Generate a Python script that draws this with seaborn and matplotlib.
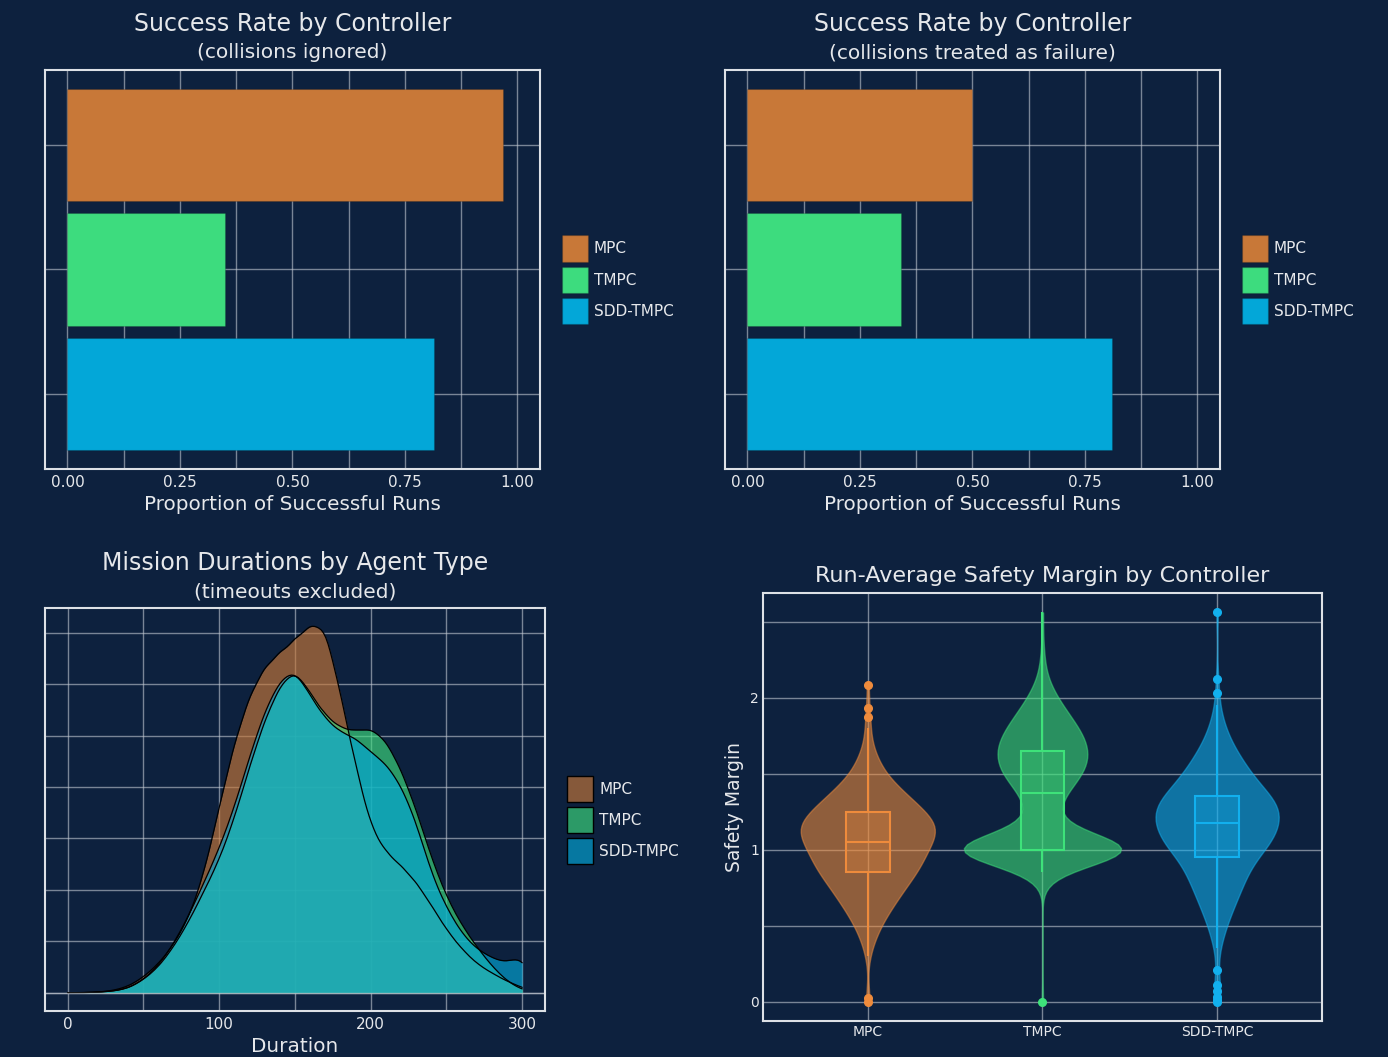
import numpy as np
import pandas as pd
import matplotlib.pyplot as plt
import seaborn as sns
from matplotlib.patches import Patch
from matplotlib.colors import to_rgba
from matplotlib.ticker import MultipleLocator, NullFormatter, FormatStrFormatter

BG = '#0d213e'
TEXT = '#e6e8eb'
GRID = '#c3c9d2'
SPINE = '#dde1e6'

CONTROLLERS = ['MPC', 'TMPC', 'SDD-TMPC']
BAR_COLORS = ['#c87838', '#3ddc7e', '#03a7d8']
VIOLIN_COLORS = ['#ee8b3c', '#3ee27a', '#12b0ee']

# success proportions per controller
SUCCESS_IGNORED = [0.969, 0.349, 0.814]
SUCCESS_COLLISION_FAIL = [0.500, 0.342, 0.811]

# mission durations (s) and relative frequency per controller
DURATIONS = [0, 10, 20, 30, 40, 50, 60, 70, 80, 90,
             100, 110, 120, 130, 140, 150, 160, 170, 180, 190,
             200, 210, 220, 230, 240, 250, 260, 270, 280, 290, 300]
MPC_DUR_FREQ = [0, 0, 0.01, 0.04, 0.12, 0.30, 0.56, 0.93, 1.45, 2.30,
                3.60, 4.85, 5.77, 6.33, 6.60, 6.85, 7.15, 7.15, 5.80, 4.42,
                3.20, 2.72, 2.47, 2.15, 1.70, 1.22, 0.85, 0.56, 0.38, 0.22, 0.10]
TMPC_DUR_FREQ = [0, 0, 0.01, 0.03, 0.08, 0.25, 0.50, 0.90, 1.40, 2.00,
                 2.60, 3.42, 4.45, 5.37, 6.05, 6.40, 5.90, 5.45, 5.20, 5.14,
                 5.22, 4.98, 4.40, 3.62, 2.65, 1.88, 1.33, 0.90, 0.52, 0.22, 0.05]
SDD_DUR_FREQ = [0, 0, 0.01, 0.03, 0.08, 0.25, 0.52, 0.95, 1.50, 2.15,
                2.80, 3.60, 4.60, 5.50, 6.10, 6.35, 5.78, 5.33, 5.06, 4.98,
                4.68, 4.48, 4.05, 3.35, 2.30, 1.65, 1.15, 0.84, 0.68, 0.55, 0.80]

# run-average safety margin: counts per level, plus isolated runs
MARGIN_LEVELS = [0.30, 0.35, 0.40, 0.45, 0.50, 0.55, 0.60, 0.65, 0.70, 0.75,
                 0.80, 0.85, 0.90, 0.95, 1.00, 1.05, 1.10, 1.15, 1.20, 1.25,
                 1.30, 1.35, 1.40, 1.45, 1.50, 1.55, 1.60, 1.65, 1.70, 1.75,
                 1.80, 1.85, 1.90, 1.95, 2.00, 2.05, 2.10, 2.15, 2.20, 2.25,
                 2.30, 2.35, 2.40]
MPC_MARGIN_COUNTS = [1, 1, 2, 3, 4, 5, 7, 8, 10, 11,
                     13, 15, 16, 17, 18, 19, 21, 22, 20, 17,
                     15, 12, 10, 7, 5, 4, 3, 2, 1, 1,
                     1, 0, 0, 0, 0, 0, 0, 0, 0, 0,
                     0, 0, 0]
TMPC_MARGIN_COUNTS = [0, 0, 0, 0, 0, 0, 0, 0, 0, 0,
                      0, 4, 8, 14, 100, 12, 8, 6, 5, 5,
                      6, 6, 10, 13, 15, 16, 17, 17, 16, 15,
                      13, 11, 9, 7, 5, 4, 2, 1, 1, 1,
                      0, 1, 0]
SDD_MARGIN_COUNTS = [0, 1, 2, 2, 3, 4, 5, 6, 7, 8,
                     9, 10, 11, 12, 16, 18, 19, 20, 20, 21,
                     21, 18, 14, 13, 11, 9, 8, 6, 5, 3,
                     3, 2, 1, 1, 0, 0, 0, 0, 0, 0,
                     0, 0, 0]
MPC_MARGIN_EXTRA = [0.00, 0.02, 1.87, 1.93, 2.08]
TMPC_MARGIN_EXTRA = [0.00, 2.56]
SDD_MARGIN_EXTRA = [0.00, 0.01, 0.03, 0.07, 0.11, 0.21, 2.03, 2.12, 2.56]

sns.set_theme(style='dark', rc={
    'figure.facecolor': BG, 'axes.facecolor': BG, 'savefig.facecolor': BG,
    'text.color': TEXT, 'axes.labelcolor': TEXT,
    'xtick.color': TEXT, 'ytick.color': TEXT,
})
plt.rcParams['font.family'] = ['DejaVu Sans']


def style_axes(ax):
    ax.set_facecolor(BG)
    for s in ax.spines.values():
        s.set_visible(True)
        s.set_color(SPINE)
        s.set_linewidth(1.5)
    ax.tick_params(which='both', length=0, colors=TEXT, labelsize=11, pad=4)
    ax.grid(True, which='both', color=GRID, alpha=0.6, linewidth=1.0)
    ax.set_axisbelow(True)


def add_titles(ax, title, subtitle, pad_main, pad_sub):
    ax.set_title(title, fontsize=17, pad=pad_main, color=TEXT)
    ax.annotate(subtitle, xy=(0.5, 1), xycoords='axes fraction',
                xytext=(0, pad_sub), textcoords='offset points',
                ha='center', va='baseline', fontsize=14.5, color=TEXT)


def side_legend(ax, handles):
    ax.legend(handles=handles, loc='center left', bbox_to_anchor=(1.032, 0.474),
              frameon=False, fontsize=11, handlelength=1.7, handleheight=2.3,
              labelspacing=0.3, handletextpad=0.4, borderaxespad=0,
              labelcolor=TEXT)


def bar_panel(ax, values, subtitle):
    df = pd.DataFrame({'controller': CONTROLLERS, 'rate': values})
    sns.barplot(data=df, x='rate', y='controller', hue='controller',
                order=CONTROLLERS, hue_order=CONTROLLERS, palette=BAR_COLORS,
                width=0.9, saturation=1, legend=False,
                edgecolor=(0, 0, 0, 0.15), linewidth=0.8, ax=ax)
    style_axes(ax)
    ax.set_xlim(-0.05, 1.05)
    ax.set_ylim(2.6, -0.6)
    ax.xaxis.set_major_locator(MultipleLocator(0.25))
    ax.xaxis.set_minor_locator(MultipleLocator(0.125))
    ax.xaxis.set_major_formatter(FormatStrFormatter('%.2f'))
    ax.tick_params(axis='y', labelleft=False)
    ax.set_ylabel('')
    ax.set_xlabel('Proportion of Successful Runs', fontsize=14.4)
    add_titles(ax, 'Success Rate by Controller', subtitle, 28, 8.5)
    handles = [Patch(facecolor=c, edgecolor=(0, 0, 0, 0.15), label=n)
               for n, c in zip(CONTROLLERS, BAR_COLORS)]
    side_legend(ax, handles)


fig = plt.figure(figsize=(13.88, 10.57), dpi=100)

ax1 = fig.add_axes([0.0324, 0.5563, 0.3566, 0.3775])
bar_panel(ax1, SUCCESS_IGNORED, '(collisions ignored)')

ax2 = fig.add_axes([0.5223, 0.5563, 0.3566, 0.3775])
bar_panel(ax2, SUCCESS_COLLISION_FAIL, '(collisions treated as failure)')

# mission durations: fill, then outline, one controller at a time
ax3 = fig.add_axes([0.0324, 0.0435, 0.3602, 0.3813])
ax3.use_sticky_edges = False
for freq, c in zip([MPC_DUR_FREQ, TMPC_DUR_FREQ, SDD_DUR_FREQ], BAR_COLORS):
    kde_kws = dict(x=DURATIONS, weights=freq, bw_method=0.13, clip=(0, 300), ax=ax3)
    sns.kdeplot(fill=True, color=c, alpha=0.65, linewidth=0, **kde_kws)
    sns.kdeplot(color='black', linewidth=0.9, **kde_kws)
ax3.axhline(0, color=GRID, alpha=0.6, linewidth=1.0)
style_axes(ax3)
ax3.xaxis.set_major_locator(MultipleLocator(100))
ax3.xaxis.set_minor_locator(MultipleLocator(50))
ax3.yaxis.set_major_locator(MultipleLocator(0.00125))
ax3.yaxis.set_major_formatter(NullFormatter())
ax3.set_ylabel('')
ax3.set_xlabel('Duration', fontsize=14.4)
add_titles(ax3, 'Mission Durations by Agent Type', '(timeouts excluded)', 27, 7.5)
side_legend(ax3, [Patch(facecolor=to_rgba(c, 0.65), edgecolor='black',
                        linewidth=1.0, label=n)
                  for n, c in zip(CONTROLLERS, BAR_COLORS)])

# safety margins
parts = []
for name, counts, extra in zip(CONTROLLERS,
                               [MPC_MARGIN_COUNTS, TMPC_MARGIN_COUNTS, SDD_MARGIN_COUNTS],
                               [MPC_MARGIN_EXTRA, TMPC_MARGIN_EXTRA, SDD_MARGIN_EXTRA]):
    vals = np.concatenate([np.repeat(MARGIN_LEVELS, counts), extra])
    parts.append(pd.DataFrame({'controller': name, 'margin': vals}))
margins = pd.concat(parts, ignore_index=True)

ax4 = fig.add_axes([0.5497, 0.0341, 0.4027, 0.4049])
sns.violinplot(data=margins, x='controller', y='margin', hue='controller',
               order=CONTROLLERS, hue_order=CONTROLLERS, palette=VIOLIN_COLORS,
               saturation=1, inner=None, cut=0, width=0.9, density_norm='area',
               common_norm=True, bw_adjust=0.85, linewidth=1, legend=False, ax=ax4)
for coll, c in zip(ax4.collections, VIOLIN_COLORS):
    coll.set_facecolor(to_rgba(c, 0.58))
    coll.set_edgecolor(to_rgba(c, 0.5))
for name, c in zip(CONTROLLERS, VIOLIN_COLORS):
    sub = margins[margins['controller'] == name]
    sns.boxplot(data=sub, x='controller', y='margin', order=CONTROLLERS,
                width=0.25, color=c, linecolor=c, linewidth=1.5, saturation=1,
                showcaps=False, boxprops=dict(facecolor=to_rgba(c, 0.3)),
                flierprops=dict(marker='o', markersize=5.5,
                                markerfacecolor=c, markeredgecolor=c),
                ax=ax4)
style_axes(ax4)
ax4.set_xlim(-0.6, 2.6)
ax4.yaxis.set_major_locator(MultipleLocator(1))
ax4.yaxis.set_minor_locator(MultipleLocator(0.5))
ax4.tick_params(labelsize=10, pad=3)
ax4.set_xlabel('')
ax4.set_ylabel('Safety Margin', fontsize=13.5)
ax4.set_title('Run-Average Safety Margin by Controller', fontsize=16, pad=8, color=TEXT)

fig.savefig('out.png', dpi=100, facecolor=BG)
